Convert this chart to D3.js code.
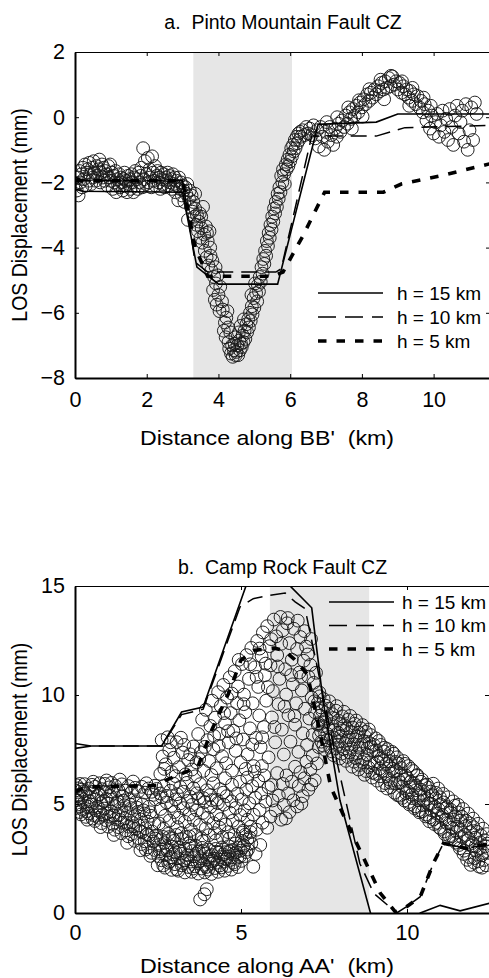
<!DOCTYPE html>
<html>
<head>
<meta charset="utf-8">
<script src="https://cdn.jsdelivr.net/npm/d3@7"></script>
<style>
  body { margin: 0; background: #fff; }
  svg { display: block; }
  text { font-family: "Liberation Sans", Arial, Helvetica, sans-serif; fill: #000; }
</style>
</head>
<body>
<svg id="fig" width="489" height="978"></svg>
<script>
// ---------- Profile BB' (Pinto Mountain Fault) ----------
const ticksXBB = [0, 2, 4, 6, 8, 10];
const ticksYBB = [-8, -6, -4, -2, 0, 2];
const shadeBB = [3.3, 6.05];

// LOS observations along BB' [distance km, displacement mm]
const losBB = [
  [0.02,-2.05],[0.05,-2.25],[0.08,-1.85],[0.1,-2.4],[0.12,-1.65],[0.15,-2.0],[0.18,-1.75],[0.2,-2.15],[0.22,-1.55],[0.25,-1.9],
  [0.28,-1.45],[0.3,-2.1],[0.33,-1.7],[0.35,-1.6],[0.38,-1.95],[0.4,-1.4],[0.42,-1.75],[0.45,-2.05],[0.48,-1.55],[0.5,-1.85],
  [0.52,-1.35],[0.55,-1.7],[0.58,-1.95],[0.6,-1.5],[0.62,-1.8],[0.65,-1.6],[0.68,-1.3],[0.7,-2.0],[0.72,-1.7],[0.75,-1.45],
  [0.78,-1.85],[0.8,-1.55],[0.83,-1.95],[0.85,-1.65],[0.88,-1.75],[0.9,-2.1],[0.93,-1.5],[0.95,-1.85],[0.98,-1.45],[1.0,-1.95],
  [1.03,-1.7],[1.05,-2.2],[1.08,-1.8],[1.1,-2.0],[1.13,-1.65],[1.15,-2.3],[1.18,-1.9],[1.2,-2.05],[1.23,-1.75],[1.25,-2.15],
  [1.28,-1.85],[1.3,-2.0],[1.33,-2.25],[1.35,-1.9],[1.38,-1.7],[1.4,-2.1],[1.43,-1.95],[1.45,-2.3],[1.48,-1.8],[1.5,-2.05],
  [1.53,-1.9],[1.55,-2.2],[1.58,-1.75],[1.6,-2.0],[1.63,-2.3],[1.65,-1.85],[1.68,-1.65],[1.7,-2.1],[1.73,-1.9],[1.75,-2.2],
  [1.78,-1.7],[1.8,-2.0],[1.83,-1.8],[1.85,-1.55],[1.88,-2.15],[1.9,-0.95],[1.93,-1.9],[1.95,-1.35],[1.98,-2.05],[2.0,-1.75],
  [2.03,-1.25],[2.05,-2.0],[2.08,-1.6],[2.1,-1.85],[2.13,-2.15],[2.15,-1.2],[2.18,-1.7],[2.2,-1.95],[2.23,-1.5],[2.25,-2.1],
  [2.28,-1.8],[2.3,-1.65],[2.33,-2.0],[2.35,-1.85],[2.38,-2.2],[2.4,-1.7],[2.43,-1.9],[2.45,-2.05],[2.48,-1.75],[2.5,-2.15],
  [2.53,-1.85],[2.55,-1.95],[2.58,-1.7],[2.6,-2.1],[2.63,-1.8],[2.65,-2.0],[2.68,-1.9],[2.7,-2.2],[2.73,-1.75],[2.75,-2.05],
  [2.78,-1.85],[2.8,-2.3],[2.83,-1.95],[2.85,-2.1],[2.88,-2.55],[2.9,-1.85],[2.93,-2.2],[2.95,-2.0],[2.98,-2.4],[3.0,-2.1],
  [3.03,-2.25],[3.05,-2.6],[3.08,-2.15],[3.1,-2.35],[3.13,-2.05],[3.15,-3.15],[3.18,-2.5],[3.2,-2.25],[3.23,-2.75],[3.25,-2.4],
  [3.28,-2.9],[3.3,-2.6],[3.33,-3.05],[3.35,-2.8],[3.38,-3.3],[3.4,-3.0],[3.43,-3.5],[3.45,-3.2],[3.48,-2.95],[3.5,-3.7],
  [3.53,-3.4],[3.55,-3.85],[3.57,-2.75],[3.6,-3.6],[3.62,-4.1],[3.65,-3.35],[3.67,-4.3],[3.7,-3.8],[3.72,-4.55],[3.75,-3.5],
  [3.77,-4.0],[3.8,-4.7],[3.83,-4.4],[3.85,-5.3],[3.88,-4.9],[3.9,-5.6],[3.93,-5.1],[3.95,-5.75],[3.98,-4.85],[4.0,-5.45],
  [4.05,-5.2],[4.1,-5.65],[4.15,-6.55],[4.18,-6.3],[4.2,-6.75],[4.25,-5.95],[4.28,-6.9],[4.3,-7.1],[4.33,-6.6],[4.35,-7.25],
  [4.38,-7.0],[4.4,-7.35],[4.43,-7.15],[4.45,-6.95],[4.48,-7.3],[4.5,-7.2],[4.53,-7.0],[4.55,-7.3],[4.58,-6.85],[4.6,-7.15],
  [4.63,-6.95],[4.65,-7.05],[4.68,-6.7],[4.7,-6.9],[4.73,-6.55],[4.75,-6.8],[4.78,-6.35],[4.8,-6.6],[4.83,-6.2],[4.85,-6.45],
  [4.88,-6.0],[4.9,-6.25],[4.93,-5.8],[4.95,-6.05],[4.98,-5.55],[5.0,-5.85],[5.05,-5.4],[5.08,-5.65],[5.1,-5.15],[5.13,-5.35],
  [5.15,-4.9],[5.18,-5.05],[5.2,-4.6],[5.23,-4.8],[5.25,-4.35],[5.28,-4.5],[5.3,-4.1],[5.33,-4.25],[5.35,-3.8],[5.38,-3.95],
  [5.4,-3.55],[5.43,-3.7],[5.45,-3.3],[5.48,-3.45],[5.5,-3.05],[5.53,-3.2],[5.55,-2.8],[5.58,-2.95],[5.6,-2.6],[5.63,-2.75],
  [5.65,-2.35],[5.68,-2.5],[5.7,-2.15],[5.73,-2.3],[5.75,-1.8],[5.78,-2.0],[5.8,-1.6],[5.83,-1.75],[5.85,-2.05],[5.88,-1.45],
  [5.9,-1.6],[5.93,-1.3],[5.95,-1.5],[5.98,-1.15],[6.0,-1.35],[6.03,-0.95],[6.05,-1.2],[6.08,-0.85],[6.1,-1.05],[6.13,-0.7],
  [6.15,-0.95],[6.18,-0.6],[6.2,-0.8],[6.23,-0.5],[6.25,-0.7],[6.28,-0.45],[6.3,-0.6],[6.35,-0.4],[6.4,-0.55],[6.45,-0.3],
  [6.5,-0.5],[6.55,-0.35],[6.6,-0.55],[6.65,-0.25],[6.7,-0.65],[6.75,-0.4],[6.8,-0.9],[6.85,-0.3],[6.9,-0.6],[6.95,-1.0],
  [7.0,-0.45],[7.05,-0.75],[7.1,-0.3],[7.15,-0.55],[7.2,-0.85],[7.25,-0.35],[7.3,-0.6],[7.35,-0.2],[7.4,-0.45],[7.45,-0.1],
  [7.5,-0.3],[7.55,0.05],[7.6,-0.2],[7.65,0.15],[7.7,-0.05],[7.75,0.25],[7.8,0.05],[7.85,0.35],[7.9,0.15],[7.95,0.45],
  [8.0,0.3],[8.05,0.55],[8.1,0.4],[8.15,0.7],[8.2,0.5],[8.25,0.75],[8.3,0.6],[8.35,0.85],[8.4,0.7],[8.45,0.95],
  [8.5,0.8],[8.55,1.05],[8.6,0.85],[8.65,1.1],[8.7,0.9],[8.75,1.2],[8.8,0.95],[8.85,1.25],[8.9,1.0],[8.95,1.1],
  [9.0,0.85],[9.05,1.05],[9.1,0.75],[9.15,0.95],[9.2,0.7],[9.25,0.85],[9.3,0.6],[9.35,0.8],[9.4,0.5],[9.45,0.7],
  [9.5,0.4],[9.55,0.65],[9.6,0.3],[9.65,0.5],[9.7,0.15],[9.75,0.4],[9.8,-0.1],[9.85,0.2],[9.9,-0.35],[9.95,0.05],
  [10.0,-0.5],[10.05,-0.15],[10.1,0.1],[10.15,-0.6],[10.2,-0.25],[10.25,0.2],[10.3,-0.45],[10.35,-0.05],[10.4,-0.7],[10.45,0.25],
  [10.5,-0.3],[10.55,-0.85],[10.6,0.05],[10.65,0.35],[10.7,-0.5],[10.75,-0.15],[10.8,0.2],[10.85,-0.75],[10.9,0.4],[10.95,-1.0],
  [11.0,-0.4],[11.05,0.3],[11.1,-0.7],[11.15,0.45],[11.2,0.1],
  [7.02,-0.15],[7.31,0.0],[7.62,0.3],[7.92,0.52],[8.21,0.86],[8.52,1.15],[8.81,1.27],[9.12,1.1],[9.41,0.9],[9.72,0.6],
  [8.62,0.55],[8.02,0.02],[7.72,-0.35],[9.32,0.35],[9.92,0.35],[3.35,-2.35],[3.52,-3.05],[3.68,-3.55],[3.78,-4.25],[3.92,-4.6],
  [4.22,-6.15],[4.27,-6.45],[4.57,-6.6],[4.62,-6.4],[4.71,-6.2],[4.47,-6.75],[4.12,-5.9],[4.03,-5.95],[5.02,-5.1],[4.92,-5.45]
];

// Model profiles along BB' for three locking depths
const modelBB15 = [[0,-2.2],[0.2,-2.27],[3.0,-2.3],[3.4,-4.6],[4.0,-5.12],[5.65,-5.12],[6.78,-0.22],[8.4,-0.15],[9.0,0.1],[11.6,0.1]];
const modelBB10 = [[0,-1.85],[0.3,-1.95],[3.0,-1.95],[3.35,-4.45],[3.7,-4.75],[5.6,-4.75],[5.75,-4.65],[6.6,-0.58],[8.4,-0.58],[9.2,-0.32],[11.6,-0.25]];
const modelBB5 = [[0,-1.95],[3.0,-1.95],[3.35,-4.0],[3.7,-4.88],[5.5,-4.88],[5.8,-4.75],[6.35,-3.65],[6.96,-2.3],[8.6,-2.3],[9.1,-2.05],[10.2,-1.8],[11.6,-1.42]];

// ---------- Profile AA' (Camp Rock Fault) ----------
const ticksXAA = [0, 5, 10];
const ticksYAA = [0, 5, 10, 15];
const shadeAA = [5.87, 8.86];

const losAA = [
  // western band
  [0.02,5.62],[0.04,5.18],[0.03,4.82],[0.05,5.86],[0.12,5.41],[0.09,4.98],[0.14,4.63],[0.11,5.72],[0.21,5.66],[0.19,5.27],
  [0.23,4.74],[0.18,4.52],[0.31,5.49],[0.28,5.08],[0.33,4.41],[0.29,5.91],[0.42,5.71],[0.38,4.88],[0.41,4.57],[0.44,5.32],
  [0.52,5.55],[0.49,4.97],[0.53,4.33],[0.51,5.88],[0.61,5.79],[0.58,5.19],[0.63,4.71],[0.6,4.22],[0.72,5.44],[0.69,4.86],
  [0.71,4.37],[0.74,5.95],[0.81,5.68],[0.79,5.04],[0.83,4.52],[0.8,4.12],[0.91,5.57],[0.88,4.79],[0.93,4.26],[0.9,5.92],
  [0.94,5.24],[1.02,5.76],[0.99,5.01],[1.03,4.42],[1.0,3.96],[1.11,5.58],[1.09,4.66],[1.13,4.09],[1.1,5.97],[1.12,5.21],
  [1.21,5.84],[1.19,4.91],[1.22,4.31],[1.2,3.82],[1.31,5.63],[1.29,5.12],[1.32,4.49],[1.3,3.94],[1.41,5.9],[1.39,4.71],
  [1.42,4.14],[1.4,3.66],[1.43,5.36],[1.52,5.61],[1.49,4.94],[1.51,4.34],[1.53,3.79],[1.61,5.82],[1.59,4.58],[1.62,3.96],
  [1.6,3.52],[1.63,5.19],[1.71,5.54],[1.69,4.81],[1.72,4.16],[1.7,3.61],[1.81,5.74],[1.79,4.44],[1.82,3.86],[1.8,3.31],
  [1.83,5.09],[1.91,5.58],[1.89,4.64],[1.92,4.01],[1.9,3.44],[2.01,5.79],[1.99,4.29],[2.02,3.71],[2.0,3.16],[2.03,4.98],
  [2.11,5.52],[2.09,4.56],[2.12,3.89],[2.1,3.29],[2.13,2.91],[2.21,5.71],[2.19,4.19],[2.22,3.56],[2.2,3.01],[2.23,4.88],
  [2.31,5.56],[2.29,4.46],[2.32,3.74],[2.3,2.76],[2.41,5.84],[2.39,4.09],[2.42,3.41],[2.4,2.89],[2.43,5.21],
  [0.07,5.35],[0.16,4.88],[0.26,5.58],[0.35,4.67],[0.46,5.12],[0.56,4.49],[0.66,5.36],[0.76,4.63],[0.86,5.14],[0.96,4.57],
  [1.06,5.37],[1.16,4.47],[1.26,5.01],[1.36,4.27],[1.46,5.16],[1.56,4.13],[1.66,4.97],[1.76,3.98],[1.86,4.84],[1.96,3.76],
  [2.06,4.71],[2.16,3.61],[2.26,4.62],[2.36,3.28],[0.15,5.92],[0.55,6.02],[0.95,6.08],[1.35,6.12],[1.75,6.03],[2.15,5.95],
  [0.37,4.28],[0.77,3.94],[1.17,3.58],[1.57,3.22],[1.97,2.88],[2.27,2.62],
  // southern low band
  [2.51,2.61],[2.53,3.12],[2.49,2.19],[2.61,2.42],[2.63,2.91],[2.59,3.38],[2.71,2.08],[2.73,2.69],[2.69,3.21],[2.81,2.31],
  [2.79,2.86],[2.83,3.48],[2.91,1.98],[2.89,2.56],[2.93,3.04],[3.01,2.24],[3.03,2.79],[2.99,3.31],[3.11,1.94],[3.09,2.51],
  [3.13,2.99],[3.21,2.19],[3.19,2.72],[3.23,3.39],[3.31,1.86],[3.29,2.41],[3.33,2.94],[3.41,2.11],[3.39,2.66],[3.43,3.19],
  [3.51,1.89],[3.49,2.36],[3.53,2.84],[3.61,2.14],[3.59,2.61],[3.63,3.09],[3.71,1.81],[3.69,2.29],[3.73,2.81],[3.81,2.04],
  [3.79,2.51],[3.83,2.99],[3.77,0.62],[3.91,1.86],[3.89,2.21],[3.93,2.71],[3.97,1.09],[4.01,1.99],[3.99,2.46],[4.03,2.91],
  [3.9,0.86],[4.11,1.79],[4.09,2.26],[4.13,2.66],[4.21,2.06],[4.19,2.49],[4.23,2.94],[4.31,1.89],[4.29,2.31],[4.33,2.76],
  [4.41,2.09],[4.39,2.56],[4.43,3.01],[4.51,1.94],[4.49,2.36],[4.53,2.79],[4.61,2.16],[4.59,2.59],[4.63,3.06],[4.71,1.99],
  [4.69,2.44],[4.73,2.89],[4.81,2.24],[4.79,2.71],[4.83,3.19],[4.91,2.11],[4.89,2.54],[4.93,2.99],[5.01,2.39],[4.99,2.86],
  [5.03,3.31],[5.11,2.61],[5.09,3.09],[5.13,3.59],[5.21,2.91],[5.19,3.36],[5.31,3.19],[5.29,3.71],[5.37,2.12],
  [2.56,2.83],[2.66,2.18],[2.76,3.02],[2.86,2.38],[2.96,2.69],[3.06,2.01],[3.16,2.86],[3.26,2.29],[3.36,2.52],[3.46,3.08],
  [3.56,2.04],[3.66,2.71],[3.76,2.39],[3.86,2.83],[3.96,2.11],[4.06,2.62],[4.16,2.39],[4.26,2.81],[4.36,2.18],[4.46,2.69],
  [4.56,2.46],[4.66,2.83],[4.76,2.31],[4.86,2.79],[4.96,2.58],[5.06,3.01],[5.16,2.79],[5.26,3.47],[2.45,3.55],[2.65,3.49],
  [3.05,3.58],[3.45,3.51],[3.85,3.29],[4.25,3.33],[4.65,3.41],[5.05,3.69],
  // central scatter
  [2.53,4.11],[2.58,4.77],[2.62,5.31],[2.67,3.86],[2.71,4.46],[2.76,5.07],[2.81,3.63],[2.85,4.24],[2.9,4.91],[2.94,3.42],
  [2.99,4.63],[3.03,5.21],[3.08,3.94],[3.12,4.37],[3.17,5.03],[3.21,3.67],[3.26,4.81],[3.31,4.18],[3.35,3.49],[3.4,5.14],
  [3.44,4.52],[3.49,3.81],[3.53,4.96],[3.58,4.27],[3.62,3.58],[3.67,4.71],[3.72,5.26],[3.76,4.04],[3.81,3.43],[3.85,4.59],
  [3.9,5.09],[3.94,3.88],[3.99,4.37],[4.03,3.57],[4.08,4.86],[4.12,5.18],[4.17,4.12],[4.21,3.66],[4.26,4.53],[4.3,5.04],
  [4.35,3.92],[4.39,4.31],[4.44,3.47],[4.48,4.97],[4.53,4.06],[4.57,5.36],[4.62,3.71],[4.66,4.61],[4.71,5.12],[4.75,4.23],
  [4.8,3.58],[4.84,4.82],[4.89,5.47],[4.93,3.97],[4.98,4.49],[5.02,5.21],[5.07,3.77],[5.11,4.71],[5.16,5.66],[5.2,4.28],
  [5.25,5.03],[5.29,3.96],[5.34,5.82],[5.38,4.51],[5.43,5.29],[5.47,3.82],[5.52,6.07],[5.56,4.73],[5.61,5.48],[5.65,4.14],
  [5.7,6.31],[5.74,5.11],[5.79,3.91],[5.83,5.77],[5.44,2.71],[5.58,3.12],[5.19,6.21],[4.97,6.02],[4.73,5.88],[4.52,6.18],
  [5.41,6.49],[5.63,6.74],
  [2.36,5.42],[2.46,5.69],[2.57,5.48],[2.67,5.82],[2.77,5.37],[2.87,5.61],[2.97,5.93],[3.07,5.45],[3.17,5.78],[3.27,5.56],
  [3.37,5.97],[3.47,5.33],[3.57,5.72],[3.67,5.49],[3.77,5.91],[3.87,5.27],[3.97,5.63],[4.07,5.41],[4.17,5.95],[4.27,5.19],
  [4.37,5.68],[4.47,5.52],
  // northern uplifted lobe
  [2.57,6.38],[2.64,7.18],[2.61,7.93],[2.73,6.82],[2.84,7.47],[2.79,8.06],[2.91,6.47],[2.97,7.12],[3.06,7.84],[3.13,6.69],
  [3.24,7.36],[3.33,6.36],[3.41,7.02],[3.52,6.58],[3.57,7.64],[3.66,6.91],[3.71,8.21],[3.79,7.37],[3.83,8.87],[3.87,6.52],
  [3.94,9.32],[3.99,7.93],[4.04,6.97],[4.08,8.58],[4.13,9.74],[4.17,7.51],[4.22,8.96],[4.27,6.64],[4.31,10.13],[4.35,8.22],
  [4.39,9.49],[4.43,7.19],[4.47,10.46],[4.52,8.71],[4.55,6.87],[4.58,9.88],[4.63,7.82],[4.66,10.81],[4.69,9.17],[4.73,6.53],
  [4.77,8.36],[4.81,11.09],[4.84,7.44],[4.88,9.63],[4.91,10.39],[4.95,8.84],[4.99,6.91],[5.03,11.42],[5.06,7.96],[5.09,10.02],
  [5.13,9.21],[5.17,11.83],[5.2,7.28],[5.24,10.74],[5.27,8.47],[5.31,12.16],[5.35,9.62],[5.38,6.74],[5.42,11.27],[5.45,8.03],
  [5.49,12.48],[5.52,10.37],[5.55,9.06],[5.59,7.61],[5.62,11.78],[5.66,12.87],[5.69,8.53],[5.72,10.91],[5.76,9.74],[5.79,13.16],
  [5.83,7.14],[5.86,12.24],[5.89,11.36],[5.93,8.97],[5.96,10.18],[5.99,13.46],[6.03,7.83],[6.06,12.69],[6.09,11.83],[6.13,9.58],
  [6.16,10.74],[6.19,13.58],[6.23,8.41],[6.26,12.97],[6.29,7.27],[6.33,11.18],[6.36,10.02],[6.39,13.29],[6.43,9.07],[6.46,12.38],
  [6.49,7.86],[6.53,11.62],[6.56,10.49],[6.59,13.04],[6.63,8.64],[6.66,9.62],[6.69,12.11],[6.73,7.39],[6.76,11.03],[6.79,12.66],
  [6.83,10.21],[6.86,8.24],[6.89,11.57],[6.93,9.37],[6.96,12.22],[6.99,7.71],[7.03,10.84],[7.06,8.92],[7.09,11.38],[7.13,9.88],
  [7.16,8.17],[7.19,10.56],[7.23,9.21],[7.26,11.02],[7.31,8.64],[7.36,10.12],[7.41,9.43],
  [2.69,6.61],[2.88,7.83],[3.03,6.28],[3.19,8.04],[3.29,7.71],[3.47,7.28],[3.62,6.27],[3.74,7.06],[3.91,7.62],[4.11,6.33],
  [4.19,8.12],[4.33,7.66],[4.49,9.17],[4.61,8.34],[4.72,10.07],[4.86,8.01],[4.93,11.61],[5.08,9.58],[5.14,6.61],[5.28,11.41],
  [5.34,7.73],[5.47,10.83],[5.56,12.13],[5.64,8.06],[5.74,11.44],[5.81,10.36],[5.91,12.56],[6.01,8.53],[6.11,11.31],[6.21,12.35],
  [6.31,9.47],[6.41,13.53],[6.51,10.91],[6.61,9.03],[6.71,13.41],[6.81,10.84],[6.91,12.93],[7.01,11.86],[7.11,12.57],[7.21,9.71],
  // fault zone, lower part
  [5.89,4.42],[5.95,5.16],[5.92,5.87],[6.04,4.71],[6.09,6.42],[6.14,5.38],[6.21,4.28],[6.26,5.92],[6.29,4.96],[6.37,6.31],
  [6.42,5.49],[6.46,4.63],[6.53,6.02],[6.58,5.17],[6.63,6.71],[6.69,4.89],[6.74,5.83],[6.79,6.46],[6.86,5.36],[6.91,6.18],
  [6.97,6.94],[7.03,5.66],[7.09,6.58],[7.16,7.23],[7.22,6.09],[7.29,6.86],[7.34,7.61],[6.35,4.34],[6.82,5.02],[7.12,5.89],
  // eastern descending band
  [7.31,9.62],[7.35,8.14],[7.38,9.05],[7.42,7.86],[7.46,8.57],[7.49,9.81],[7.53,7.49],[7.57,8.92],[7.6,8.21],[7.64,9.37],
  [7.68,7.62],[7.71,8.66],[7.75,9.12],[7.79,7.24],[7.82,8.39],[7.86,9.28],[7.9,7.71],[7.93,8.83],[7.97,7.09],[8.01,8.12],
  [8.05,9.02],[8.08,7.52],[8.12,8.61],[8.16,6.98],[8.2,7.93],[8.23,8.87],[8.27,7.36],[8.31,8.29],[8.35,6.71],[8.39,7.74],
  [8.42,8.68],[8.46,7.11],[8.5,8.09],[8.54,6.58],[8.57,7.58],[8.61,8.47],[8.65,6.93],[8.69,7.87],[8.72,6.34],[8.76,8.31],
  [8.8,7.27],[8.84,6.68],[8.87,7.79],[8.91,8.16],[8.95,6.21],[8.99,7.42],[9.02,6.84],[9.06,8.01],[9.1,6.07],[9.14,7.22],
  [9.17,6.62],[9.21,7.71],[9.25,5.86],[9.29,6.97],[9.32,7.58],[9.36,6.38],[9.4,5.71],[9.44,7.19],[9.47,6.74],[9.51,5.97],
  [9.55,7.39],[9.59,6.49],[9.62,5.52],[9.66,6.93],[9.7,7.14],[9.74,6.12],[9.77,5.38],[9.81,6.66],[9.85,5.79],[9.89,6.97],
  [9.92,5.16],[9.96,6.31],[10.0,5.61],[10.04,6.74],[10.07,4.98],[10.11,6.02],[10.15,5.43],[10.19,6.51],[10.22,4.81],[10.26,5.84],
  [10.3,6.29],[10.34,5.17],[10.37,4.62],[10.41,5.66],[10.45,6.12],[10.49,4.94],[10.52,5.41],[10.56,4.43],[10.6,5.89],[10.64,5.02],
  [10.67,4.21],[10.71,5.57],[10.75,4.71],[10.79,5.93],[10.82,4.08],[10.86,5.26],[10.9,4.56],[10.94,5.71],[10.97,3.92],[11.01,4.98],
  [11.05,4.37],[11.09,5.46],[11.12,3.74],[11.16,4.81],[11.2,4.12],[11.24,5.31],[11.27,3.54],[11.31,4.62],[11.35,3.91],[11.39,5.12],
  [11.42,3.33],[11.46,4.43],[11.5,3.72],[11.54,4.96],[11.57,3.12],[11.61,4.24],[11.65,3.49],[11.69,4.77],[11.72,2.86],[11.76,3.98],
  [11.8,3.31],[11.84,4.56],[11.87,2.57],[11.91,3.71],[11.95,3.08],[11.99,4.33],[12.02,2.31],[12.06,3.46],[12.1,2.86],[12.14,4.09],
  [12.17,2.13],[12.21,3.24],[12.25,2.64],[12.29,3.87],[12.32,2.43],[12.36,3.06],[12.4,3.62],[12.44,2.81],
  [7.33,8.71],[7.37,9.94],[7.41,8.33],[7.44,9.29],[7.48,7.68],[7.52,8.79],[7.55,9.51],[7.59,7.93],[7.63,8.48],[7.66,9.71],
  [7.7,8.02],[7.74,7.41],[7.77,8.94],[7.81,8.04],[7.85,7.56],[7.88,9.49],[7.92,8.27],[7.96,7.89],[7.99,8.66],[8.03,7.31],
  [8.07,8.38],[8.1,9.23],[8.14,7.76],[8.18,8.46],[8.21,7.16],[8.25,8.06],[8.29,9.04],[8.32,7.57],[8.36,8.51],[8.4,6.94],
  [8.44,7.97],[8.47,8.83],[8.51,7.32],[8.55,8.27],[8.58,6.79],[8.62,7.71],[8.66,8.62],[8.7,7.06],[8.73,8.11],[8.77,6.51],
  [8.81,7.56],[8.85,8.42],[8.88,6.91],[8.92,7.63],[8.96,6.44],[9.0,7.71],[9.04,6.39],[9.07,7.46],[9.11,6.93],[9.15,7.89],
  [9.19,6.27],[9.22,7.09],[9.26,6.51],[9.3,7.41],[9.34,5.96],[9.37,6.83],[9.41,7.52],[9.45,6.14],[9.49,6.96],[9.52,5.77],
  [9.56,6.61],[9.6,7.31],[9.64,5.94],[9.67,6.52],[9.71,5.41],[9.75,6.86],[9.79,5.99],[9.82,6.37],[9.86,5.28],[9.9,6.11],
  [9.94,6.84],[9.97,5.49],[10.01,6.19],[10.05,5.09],[10.09,5.77],[10.12,6.61],[10.16,5.27],[10.2,5.96],[10.24,4.89],[10.27,5.63],
  [10.31,6.33],[10.35,4.71],[10.39,5.39],[10.42,6.02],[10.46,4.66],[10.5,5.16],[10.54,5.86],[10.57,4.52],[10.61,5.24],[10.65,5.74],
  [10.69,4.39],[10.72,5.01],[10.76,5.41],[10.8,4.29],[10.84,4.87],[10.87,5.51],[10.91,4.14],[10.95,4.76],[10.99,5.31],[11.02,3.86],
  [11.06,4.49],[11.1,5.07],[11.14,3.62],[11.17,4.29],[11.21,4.86],[11.25,3.41],[11.29,4.13],[11.32,4.73],[11.36,3.52],[11.4,4.28],
  [11.44,4.92],[11.47,3.23],[11.51,3.96],[11.55,4.61],[11.59,2.97],[11.62,3.81],[11.66,4.41],[11.7,2.71],[11.74,3.58],[11.77,4.24],
  [11.81,2.44],[11.85,3.39],[11.89,4.11],[11.92,2.21],[11.96,3.21],[12.0,3.94],[12.04,2.52],[12.07,3.06],[12.11,3.72],[12.15,2.37],
  [12.19,2.98],[12.22,3.57],[12.26,2.08],[12.3,2.76],[12.34,3.34],[12.38,2.19],[12.42,3.18]
];

const modelAA15 = [[0,7.55],[0.5,7.66],[2.61,7.66],[3.21,9.22],[3.86,9.45],[5.15,15],[5.5,16.2],[6.2,16.2],[6.48,15],[7.13,14.0],[7.47,9.75],[7.98,5.17],[8.9,0],[9.5,-1.5],[10.4,0],[11.0,0.35],[11.6,0.1],[12.5,0.45]];
const modelAA10 = [[0,7.78],[0.5,7.66],[2.61,7.66],[3.21,9.1],[3.86,9.35],[4.97,14.04],[5.37,14.42],[5.87,14.57],[6.33,14.68],[6.63,14.27],[6.93,13.96],[7.88,7.0],[8.58,2.27],[9.0,0.9],[9.69,0.0],[10.0,0.3],[10.4,0.75],[10.8,2.3],[11.1,3.2],[11.8,2.95],[12.5,3.2]];
const modelAA5 = [[0,5.55],[0.3,5.78],[2.5,5.85],[2.75,6.1],[3.7,6.7],[4.12,8.4],[4.62,10.06],[5.0,11.6],[5.4,12.05],[6.0,12.15],[6.3,12.05],[6.6,11.65],[7.0,10.95],[7.15,9.9],[7.35,8.5],[7.7,5.8],[8.2,4.1],[8.7,2.5],[9.2,0.9],[9.65,0.05],[10.0,0.3],[10.4,0.75],[10.8,2.3],[11.1,3.2],[11.8,2.95],[12.5,3.2]];

const legendLabels = ["h = 15 km", "h = 10 km", "h = 5 km"];

// ---------- drawing ----------
const svg = d3.select("#fig");
const FONT = '"Liberation Sans", Arial, Helvetica, sans-serif';
const lineStyles = [
  { width: 1.6, dash: null },
  { width: 1.5, dash: "16,8" },
  { width: 3.6, dash: "8.5,10" }
];

function drawPanel(o) {
  const left = 75;
  const x = d3.scaleLinear().domain(o.xDomain).range([left, o.right]);
  const y = d3.scaleLinear().domain(o.yDomain).range([o.bottom, o.top]);
  const g = svg.append("g");

  const clipId = o.id + "-clip";
  svg.append("clipPath").attr("id", clipId).append("rect")
    .attr("x", left).attr("y", o.top)
    .attr("width", o.right - left).attr("height", o.bottom - o.top);

  // fault-zone shading
  g.append("rect")
    .attr("x", x(o.shade[0])).attr("y", o.top)
    .attr("width", x(o.shade[1]) - x(o.shade[0]))
    .attr("height", o.bottom - o.top)
    .attr("fill", "#e6e6e6");

  const plot = g.append("g").attr("clip-path", `url(#${clipId})`);

  plot.append("g").selectAll("circle").data(o.points).join("circle")
    .attr("cx", d => x(d[0])).attr("cy", d => y(d[1]))
    .attr("r", 6.4)
    .attr("fill", "none").attr("stroke", "#181818").attr("stroke-width", 0.95);

  const line = d3.line().x(d => x(d[0])).y(d => y(d[1]));
  o.models.forEach((m, i) => {
    plot.append("path").attr("d", line(m))
      .attr("fill", "none").attr("stroke", "#000")
      .attr("stroke-width", lineStyles[i].width)
      .attr("stroke-dasharray", lineStyles[i].dash);
  });

  // axes: labelled bottom/left, bare top/right, ticks pointing inward
  const styleAxis = (sel, w) => {
    sel.attr("font-size", 21.5).attr("font-family", FONT);
    sel.select(".domain").attr("stroke", "#000").attr("stroke-width", w);
    sel.selectAll(".tick line").attr("stroke", "#000").attr("stroke-width", 1);
    sel.selectAll(".tick text").attr("fill", "#000");
  };
  g.append("g").attr("transform", `translate(0,${o.bottom})`)
    .call(d3.axisBottom(x).tickValues(o.xTicks).tickSize(-4).tickSizeOuter(0).tickPadding(o.xPad))
    .call(s => styleAxis(s, 2));
  g.append("g").attr("transform", `translate(${left},0)`)
    .call(d3.axisLeft(y).tickValues(o.yTicks).tickSize(-4).tickSizeOuter(0).tickPadding(10))
    .call(s => styleAxis(s, 2));
  g.append("g").attr("transform", `translate(0,${o.top})`)
    .call(d3.axisTop(x).tickValues(o.xTicks).tickSize(-4).tickSizeOuter(0).tickFormat(""))
    .call(s => styleAxis(s, 1));
  g.append("g").attr("transform", `translate(${o.right},0)`)
    .call(d3.axisRight(y).tickValues(o.yTicks).tickSize(-5).tickSizeOuter(0).tickFormat(""))
    .call(s => styleAxis(s, 1));

  // titles and axis labels
  const cx = (left + o.right) / 2;
  g.append("text").attr("x", cx).attr("y", o.titleY)
    .attr("text-anchor", "middle").attr("font-size", 19.5)
    .attr("xml:space", "preserve").style("white-space", "pre").text(o.title);
  g.append("text").attr("x", 267).attr("y", o.xLabelY)
    .attr("text-anchor", "middle").attr("font-size", 21)
    .attr("textLength", 254).attr("lengthAdjust", "spacingAndGlyphs")
    .attr("xml:space", "preserve").style("white-space", "pre").text(o.xLabel);
  g.append("text")
    .attr("transform", `translate(27,${(o.top + o.bottom) / 2}) scale(1.1,1) rotate(-90)`)
    .attr("text-anchor", "middle").attr("font-size", 19.5).text("LOS Displacement (mm)");

  // legend
  const lg = g.append("g");
  legendLabels.forEach((lab, i) => {
    const yy = o.legend.y + i * o.legend.dy;
    lg.append("line").attr("x1", o.legend.x1).attr("x2", o.legend.x2)
      .attr("y1", yy).attr("y2", yy)
      .attr("stroke", "#000").attr("stroke-width", lineStyles[i].width)
      .attr("stroke-dasharray", i === 1 ? "18,9" : lineStyles[i].dash);
    lg.append("text").attr("x", o.legend.tx).attr("y", yy + 6.5)
      .attr("font-size", 19).text(lab);
  });
}

drawPanel({
  id: "bb", top: 52, bottom: 378, right: 491,
  xDomain: [0, 11.6], yDomain: [-8, 2],
  xTicks: ticksXBB, yTicks: ticksYBB, xPad: 14,
  shade: shadeBB, points: losBB, models: [modelBB15, modelBB10, modelBB5],
  title: "a.  Pinto Mountain Fault CZ", titleY: 29,
  xLabel: "Distance along BB'  (km)", xLabelY: 445,
  legend: { x1: 318, x2: 383, tx: 397, y: 293, dy: 24 }
});

drawPanel({
  id: "aa", top: 586, bottom: 913, right: 490,
  xDomain: [0, 12.5], yDomain: [0, 15],
  xTicks: ticksXAA, yTicks: ticksYAA, xPad: 12,
  shade: shadeAA, points: losAA, models: [modelAA15, modelAA10, modelAA5],
  title: "b.  Camp Rock Fault CZ", titleY: 574,
  xLabel: "Distance along AA'  (km)", xLabelY: 973,
  legend: { x1: 329, x2: 394, tx: 402, y: 602, dy: 23.5 }
});
</script>
</body>
</html>
